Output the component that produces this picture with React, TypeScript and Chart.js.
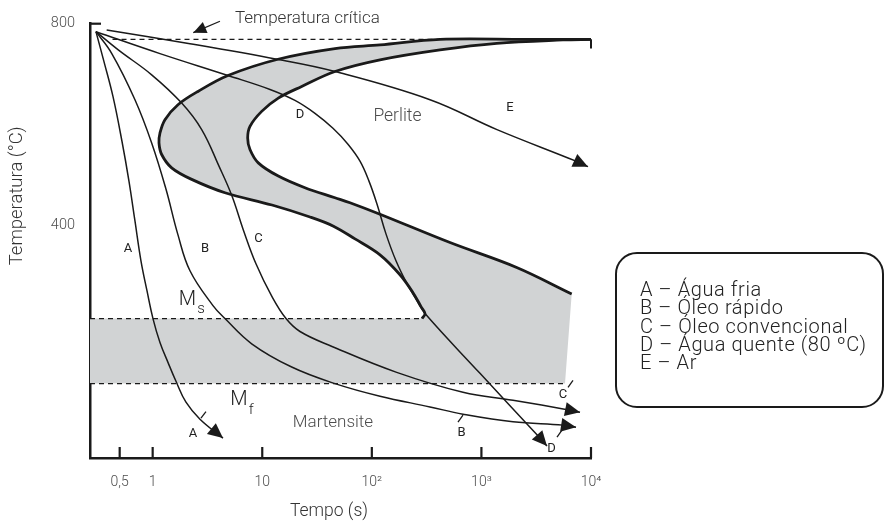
import { useEffect, useRef } from "react";
import { Chart, registerables } from "chart.js";

Chart.register(...registerables);

// ---- axes ----
const X_MIN = 0.268;
const X_MAX = 10000;
const Y_MIN = -60;
const Y_MAX = 800;

const xTickValues = [0.5, 1, 10, 100, 1000, 10000];
const xTickLabels = ["0,5", "1", "10", "10²", "10³", "10⁴"];
const yTickValues = [400, 800];
const yTickLabels = ["400", "800"];

// ---- reference temperatures (°C) ----
const criticalTemp = 769;
const criticalStart = 0.43;
const criticalEnd = 418.8;
const msTemp = 216;
const msEnd = 286.9;
const mfTemp = 87.3;
const mfEnd = 5790;
const frameTickTemp = 751;

// ---- transformation start curve (outer C) ----
const startTime = [10000, 2500, 418.8, 118.7, 46.1, 13.92, 4.866, 2.591, 1.702, 1.295, 1.166, 1.142, 1.208, 1.49, 2.27, 4.568, 12.27, 27.26, 44.2, 70.2, 118.7, 180.7, 237.5, 280.9, 305.6, 286.9];
const startTemp = [769, 769, 769, 758, 750.7, 729.6, 697.4, 665.9, 639.6, 610, 583.6, 563.9, 541, 514.6, 491.7, 465.3, 441, 417.3, 399.6, 373.9, 342.4, 302.9, 267.4, 239.8, 226, 216];

// ---- transformation finish curve (inner C) ----
const finishTime = [10000, 5553, 1378, 418.8, 118.7, 46.1, 22.9, 14.01, 9.88, 7.727, 7.362, 7.727, 9.2, 14.01, 24.54, 46.1, 63.2, 118.7, 516.7, 2099, 6666];
const finishTemp = [769, 767.8, 761.1, 748.1, 728.4, 705.3, 675.7, 652.7, 626.4, 596.8, 573.8, 550.9, 524.4, 498.2, 475.1, 455.4, 445.5, 422.7, 366.6, 317.3, 264.9];

// ---- cooling curves ----
const aTime = [0.3037, 0.3594, 0.4342, 0.5246, 0.6077, 0.6893, 0.7819, 0.8871, 1.0063, 1.166, 1.379, 1.632, 2.013, 2.702, 4.381];
const aTemp = [784.2, 725, 656, 567.2, 488.3, 409.4, 330.5, 271.4, 216.1, 168.8, 129.4, 91.9, 50.5, 16.9, -20.6];

const bTime = [0.3037, 0.4224, 0.6893, 0.9792, 1.322, 1.702, 2.19, 3.551, 4.568, 8.009, 18.56, 46.1, 118.7, 339.4, 678.9, 1942, 5553, 7298];
const bTemp = [784.2, 741.4, 649.5, 563.9, 472.6, 381.8, 310.8, 241.8, 216.1, 166.2, 120.1, 87.3, 62.3, 41.2, 26.8, 11.6, 5.1, 1.1];

const cTime = [0.3037, 0.4853, 0.9792, 1.84, 2.801, 4.028, 5.293, 6.671, 8.764, 12.27, 16.47, 22.1, 43.28, 168.6, 678.9, 1942, 6433, 7936];
const cTemp = [784.2, 748.1, 698.8, 642.8, 590.3, 517.9, 458.8, 393.7, 324.6, 259.5, 216.1, 190.5, 160.9, 109.6, 70.2, 54.4, 34.7, 30.7];

const dTime = [0.3037, 1.166, 4.866, 11.77, 19.89, 30.28, 44.2, 60.57, 77.97, 94.19, 111.4, 134.6, 166.1, 209.3, 258.2, 305.6, 970.5, 3425, 3967];
const dTemp = [784.2, 740.8, 697.4, 669.8, 648.1, 622.5, 592.9, 561.3, 527.8, 488.3, 443, 383.8, 330.5, 285.2, 251.6, 226, 107.6, -20.6, -36.3];

const eTime = [0.3803, 2.19, 13.63, 46.1, 339.4, 1387, 7298, 9389];
const eTemp = [787.6, 760.5, 729.6, 705.3, 649.5, 590.3, 527.8, 516.9];

// ---- annotations (time s, temperature °C) ----
const curveLabelText = ["A", "B", "C", "D", "E", "A", "B", "C", "D"];
const curveLabelTime = [0.595, 3.001, 9.238, 22.1, 1823, 2.332, 658, 5553, 4360];
const curveLabelTemp = [354.2, 354.2, 374, 620.5, 634.3, -12.7, -10.7, 66.2, -42.2];

const leaderFromTime = [2.76, 611.3, 6170, 4895];
const leaderFromTemp = [18.9, 11, 80, -18.6];
const leaderToTime = [3.064, 678.9, 6851, 5438];
const leaderToTemp = [31.7, 24.8, 93.8, -4.8];

const regionText = ["Perlite", "Martensite"];
const regionTime = [171.4, 44.2];
const regionTemp = [616.6, 9];

const criticalText = "Temperatura crítica";
const criticalTextTime = 5.637;
const criticalTextTemp = 809.9;
const criticalArrowFrom = [4.113, 804.9];
const criticalArrowTo = [2.347, 782.2];

const msLabelPos = [2.078, 253.6];
const mfLabelPos = [6.134, 54.4];

const yTitle = "Temperatura (°C)";
const yTitleTemp = 459;
const xTitle = "Tempo (s)";
const xTitleTime = 40.6;

const legendItems = [
  "A – Água fria",
  "B – Óleo rápido",
  "C – Óleo convencional",
  "D – Água quente (80 ºC)",
  "E – Ar",
];

const INK = "#1a1a1a";
const SHADE = "#d1d3d4";
const TEXT_GRAY = "#4d4d4d";
const FONT = "Roboto, 'Open Sans', sans-serif";

const pts = (t: number[], v: number[]) => t.map((x, i) => ({ x, y: v[i] }));

const coolingSets = [
  { t: aTime, v: aTemp },
  { t: bTime, v: bTemp },
  { t: cTime, v: cTemp },
  { t: dTime, v: dTemp },
  { t: eTime, v: eTemp },
];

function arrowHead(ctx: CanvasRenderingContext2D, x0: number, y0: number, x1: number, y1: number, len: number, half: number) {
  const a = Math.atan2(y1 - y0, x1 - x0);
  const c = Math.cos(a), s = Math.sin(a);
  ctx.beginPath();
  ctx.moveTo(x1, y1);
  ctx.lineTo(x1 - len * c + half * s, y1 - len * s - half * c);
  ctx.lineTo(x1 - len * c - half * s, y1 - len * s + half * c);
  ctx.closePath();
  ctx.fill();
}

const decorPlugin = {
  id: "cctDecor",
  beforeDatasetsDraw(chart: any) {
    const { ctx, chartArea } = chart;
    const X = (t: number) => chart.scales.x.getPixelForValue(t);
    const Y = (T: number) => chart.scales.y.getPixelForValue(T);
    const outer = chart.getDatasetMeta(0).dataset;
    const inner = chart.getDatasetMeta(1).dataset;
    ctx.save();
    ctx.beginPath();
    const canPath = outer && typeof outer.path === "function" && typeof inner.pathSegment === "function";
    if (canPath) {
      outer.updateControlPoints(chartArea, "x");
      inner.updateControlPoints(chartArea, "x");
      outer.path(ctx);
    } else {
      startTime.forEach((t, i) => (i === 0 ? ctx.moveTo(X(t), Y(startTemp[i])) : ctx.lineTo(X(t), Y(startTemp[i]))));
    }
    ctx.lineTo(X(X_MIN), Y(msTemp));
    ctx.lineTo(X(X_MIN), Y(mfTemp));
    ctx.lineTo(X(mfEnd), Y(mfTemp));
    if (canPath) {
      inner.pathSegment(ctx, inner.segments[0], { move: false, reverse: true });
    } else {
      for (let i = finishTime.length - 1; i >= 0; i--) ctx.lineTo(X(finishTime[i]), Y(finishTemp[i]));
    }
    ctx.closePath();
    ctx.fillStyle = SHADE;
    ctx.fill();
    ctx.restore();
  },
  afterDatasetsDraw(chart: any) {
    const { ctx, chartArea } = chart;
    const X = (t: number) => chart.scales.x.getPixelForValue(t);
    const Y = (T: number) => chart.scales.y.getPixelForValue(T);
    ctx.save();
    // arrowheads of cooling curves
    ctx.fillStyle = INK;
    coolingSets.forEach(({ t, v }) => {
      const n = t.length;
      arrowHead(ctx, X(t[n - 2]), Y(v[n - 2]), X(t[n - 1]), Y(v[n - 1]), 15, 7);
    });
    // leader marks
    ctx.strokeStyle = INK;
    ctx.lineWidth = 1.3;
    leaderFromTime.forEach((t, i) => {
      ctx.beginPath();
      ctx.moveTo(X(t), Y(leaderFromTemp[i]));
      ctx.lineTo(X(leaderToTime[i]), Y(leaderToTemp[i]));
      ctx.stroke();
    });
    // axis decorations
    ctx.lineWidth = 2.2;
    xTickValues.forEach((v) => {
      ctx.beginPath();
      ctx.moveTo(X(v), chartArea.bottom);
      ctx.lineTo(X(v), chartArea.bottom - 11);
      ctx.stroke();
    });
    ctx.beginPath();
    ctx.moveTo(chartArea.left, Y(Y_MAX));
    ctx.lineTo(chartArea.left + 11, Y(Y_MAX));
    ctx.stroke();
    ctx.lineWidth = 2;
    ctx.beginPath();
    ctx.moveTo(X(X_MAX), Y(criticalTemp));
    ctx.lineTo(X(X_MAX), Y(frameTickTemp));
    ctx.stroke();
    // critical temperature pointer
    ctx.lineWidth = 1.3;
    const ax0 = X(criticalArrowFrom[0]), ay0 = Y(criticalArrowFrom[1]);
    const ax1 = X(criticalArrowTo[0]), ay1 = Y(criticalArrowTo[1]);
    ctx.beginPath();
    ctx.moveTo(ax0, ay0);
    ctx.lineTo(ax1, ay1);
    ctx.stroke();
    arrowHead(ctx, ax0, ay0, ax1, ay1, 13, 6);

    // texts
    ctx.textBaseline = "middle";
    ctx.textAlign = "center";
    ctx.fillStyle = "#222";
    ctx.font = `400 13px ${FONT}`;
    curveLabelText.forEach((s, i) => ctx.fillText(s, X(curveLabelTime[i]), Y(curveLabelTemp[i])));

    ctx.fillStyle = TEXT_GRAY;
    ctx.font = `300 17.5px ${FONT}`;
    ctx.fillText(regionText[0], X(regionTime[0]), Y(regionTemp[0]));
    ctx.font = `300 17px ${FONT}`;
    ctx.fillText(regionText[1], X(regionTime[1]), Y(regionTemp[1]));

    ctx.fillStyle = "#333";
    ctx.textAlign = "left";
    ctx.font = `300 17px ${FONT}`;
    ctx.fillText(criticalText, X(criticalTextTime), Y(criticalTextTemp));

    // Ms / Mf
    const drawM = (pos: number[], sub: string) => {
      ctx.fillStyle = "#222";
      ctx.textAlign = "center";
      ctx.font = `300 20px ${FONT}`;
      const mx = X(pos[0]), my = Y(pos[1]);
      ctx.fillText("M", mx, my);
      const w = ctx.measureText("M").width;
      ctx.font = `300 15px ${FONT}`;
      ctx.textAlign = "left";
      ctx.fillText(sub, mx + w / 2 + 1, my + 10);
    };
    drawM(msLabelPos, "s");
    drawM(mfLabelPos, "f");

    // axis titles
    ctx.fillStyle = "#333";
    ctx.textAlign = "center";
    ctx.font = `300 17.5px ${FONT}`;
    ctx.fillText(xTitle, X(xTitleTime), chartArea.bottom + 54);
    ctx.font = `300 18.5px ${FONT}`;
    ctx.translate(chartArea.left - 73, Y(yTitleTemp));
    ctx.rotate(-Math.PI / 2);
    ctx.fillText(yTitle, 0, 0);
    ctx.restore();
  },
};

export default function App() {
  const canvasRef = useRef<HTMLCanvasElement | null>(null);

  useEffect(() => {
    const canvas = canvasRef.current;
    if (!canvas) return;
    Chart.defaults.font.family = FONT;
    const curveBase = { borderColor: INK, pointRadius: 0, fill: false };
    const chart = new Chart(canvas, {
      type: "line",
      data: {
        datasets: [
          { ...curveBase, label: "Início", data: pts(startTime, startTemp), borderWidth: 2.8, tension: 0.35 },
          { ...curveBase, label: "Fim", data: pts(finishTime, finishTemp), borderWidth: 2.8, tension: 0.35 },
          { ...curveBase, label: "Temperatura crítica", data: pts([criticalStart, criticalEnd], [criticalTemp, criticalTemp]), borderWidth: 1.4, borderDash: [5, 4], tension: 0 },
          { ...curveBase, label: "Ms", data: pts([X_MIN, msEnd], [msTemp, msTemp]), borderWidth: 1.4, borderDash: [5, 4], tension: 0 },
          { ...curveBase, label: "Mf", data: pts([X_MIN, mfEnd], [mfTemp, mfTemp]), borderWidth: 1.4, borderDash: [5, 4], tension: 0 },
          { ...curveBase, label: "A", data: pts(aTime, aTemp), borderWidth: 1.5, tension: 0.4 },
          { ...curveBase, label: "B", data: pts(bTime, bTemp), borderWidth: 1.5, tension: 0.4 },
          { ...curveBase, label: "C", data: pts(cTime, cTemp), borderWidth: 1.5, tension: 0.4 },
          { ...curveBase, label: "D", data: pts(dTime, dTemp), borderWidth: 1.5, tension: 0.4 },
          { ...curveBase, label: "E", data: pts(eTime, eTemp), borderWidth: 1.5, tension: 0.4 },
        ],
      },
      options: {
        animation: false,
        responsive: true,
        maintainAspectRatio: false,
        layout: { padding: { left: 0, top: 22, right: 294, bottom: 0 } },
        plugins: { legend: { display: false }, tooltip: { enabled: false }, title: { display: false } },
        elements: { point: { radius: 0 } },
        scales: {
          x: {
            type: "logarithmic",
            min: X_MIN,
            max: X_MAX,
            afterBuildTicks: (s: any) => {
              s.ticks = xTickValues.map((value) => ({ value }));
            },
            afterFit: (s: any) => {
              s.height = 67;
            },
            ticks: {
              autoSkip: false,
              maxRotation: 0,
              padding: 16,
              color: TEXT_GRAY,
              font: { size: 14, weight: "300" },
              callback: (_v: any, i: number) => xTickLabels[i],
            },
            grid: { display: true, drawOnChartArea: false, drawTicks: false },
            border: { display: true, color: INK, width: 2.5 },
          },
          y: {
            type: "linear",
            min: Y_MIN,
            max: Y_MAX,
            afterBuildTicks: (s: any) => {
              s.ticks = yTickValues.map((value) => ({ value }));
            },
            afterFit: (s: any) => {
              s.width = 90;
            },
            ticks: {
              padding: 15,
              color: TEXT_GRAY,
              font: { size: 14.5, weight: "300" },
              callback: (_v: any, i: number) => yTickLabels[i],
            },
            grid: { display: true, drawOnChartArea: false, drawTicks: false },
            border: { display: true, color: INK, width: 2.5 },
          },
        },
      },
      plugins: [decorPlugin],
    } as any);
    return () => chart.destroy();
  }, []);

  return (
    <div style={{ position: "absolute", left: 0, top: 0, width: 885, height: 525, background: "#fff" }}>
      <div style={{ position: "absolute", left: 0, top: 0, width: 885, height: 525 }}>
        <canvas ref={canvasRef} />
      </div>
      <div
        style={{
          position: "absolute",
          left: 615,
          top: 252,
          width: 269,
          height: 156,
          boxSizing: "border-box",
          border: `2.5px solid ${INK}`,
          borderRadius: 22,
          padding: "26px 0 0 23px",
          fontFamily: FONT,
          fontWeight: 300,
          fontSize: 20,
          letterSpacing: "0.6px",
          lineHeight: "18.3px",
          color: "#222",
          whiteSpace: "pre",
        }}
      >
        {legendItems.map((s) => (
          <div key={s}>{s}</div>
        ))}
      </div>
    </div>
  );
}
